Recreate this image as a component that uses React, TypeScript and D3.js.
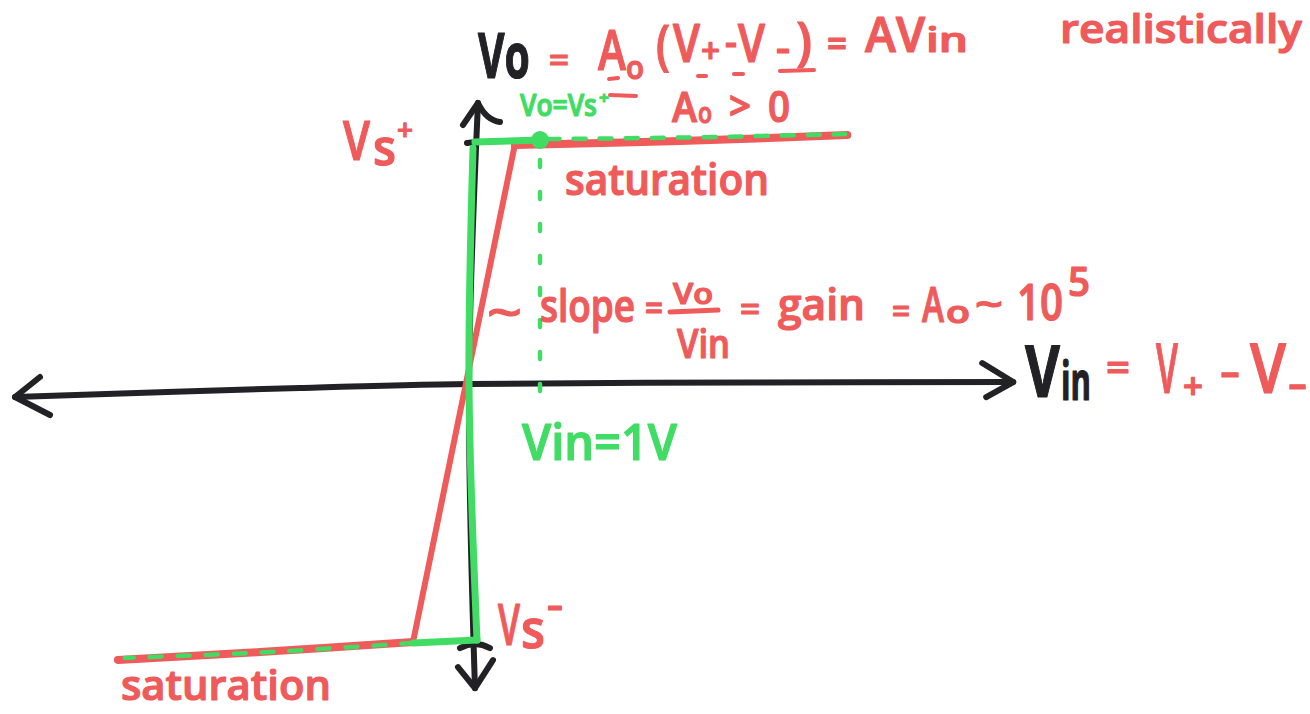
import React, { useLayoutEffect, useRef, useState } from "react";
import * as d3 from "d3";

// Op-amp transfer characteristic: Vo versus Vin = V+ - V-
type Pt = [number, number]; // [Vin (V), Vo (V)]

const W = 1310;
const H = 714;

// axes
const vinAxis: Pt[] = [[-6.5, -0.49], [-2.43, -0.12], [0, 0.04], [4, 0.1], [7.76, 0.12]];
const voAxis: Pt[] = [[0.114, 11.51], [-0.014, 0], [0.071, -12.37]];

// realistic (finite gain) curve
const redTop: Pt[] = [[0.64, 9.8], [3.0, 9.96], [5.39, 10.2]];
const redSlope: Pt[] = [[0.64, 9.8], [-0.814, -10.49]];
const redBottom: Pt[] = [[-0.814, -10.49], [-3.0, -10.9], [-5.03, -11.22]];

// ideal (infinite gain) curve
const greenVertical: Pt[] = [[0.043, 9.67], [-0.014, 0], [0.1, -10.41]];
const greenTop: Pt[] = [[0.07, 9.92], [1, 10.0]];
const greenTopDash: Pt[] = [[1.11, 10.04], [3.0, 10.1], [5.36, 10.24]];
const greenBottom: Pt[] = [[0.1, -10.41], [-0.81, -10.53]];
const greenBottomDash: Pt[] = [[-0.81, -10.53], [-3.0, -10.92], [-4.93, -11.14]];
const markerVin: Pt[] = [[1, 9.18], [1, -0.61]];
const markerDot: Pt = [1, 10.0];

const RED = "#ef5a5a";
const GREEN = "#40dc64";
const INK = "#222226";
const FONT = "'Open Sans', 'Noto Sans', sans-serif";

// [text, x, baseline, font size, fitted width]
type Part = [string, number, number, number, number];

// one glyph run, scaled horizontally to fill its width
function Piece({ part, c, fw }: { part: Part; c: string; fw: number }) {
  const [t, x, y, s, w] = part;
  const ref = useRef<SVGTextElement>(null);
  const [k, setK] = useState(1);
  useLayoutEffect(() => {
    const n = ref.current ? ref.current.getComputedTextLength() : 0;
    if (n > 0) setK(w / n);
  }, [t, s, w]);
  return (
    <text
      ref={ref}
      transform={`translate(${x},${y}) scale(${k},1)`}
      fontSize={s}
      fill={c}
      stroke={c}
      strokeWidth={1.2}
      strokeLinejoin="round"
      fontFamily={FONT}
      fontWeight={fw}
    >
      {t}
    </text>
  );
}

function Words({ parts, c, fw = 600 }: { parts: Part[]; c: string; fw?: number }) {
  return (
    <g>
      {parts.map((pt, i) => (
        <Piece key={i} part={pt} c={c} fw={fw} />
      ))}
    </g>
  );
}

const eqOut: Part[] = [["Vo", 478, 78, 62, 52]];
const eqGain: Part[] = [
  ["=", 549, 72, 34, 20],
  ["A", 598, 70, 56, 28],
  ["o", 626, 79, 32, 18],
  ["(", 656, 64, 54, 14],
  ["V", 673, 62, 52, 27],
  ["+", 701, 63, 34, 19],
  ["-", 725, 56, 40, 12],
  ["V", 738, 62, 52, 27],
  ["-", 776, 62, 40, 14],
  [")", 796, 60, 52, 16],
  ["=", 827, 57, 40, 20],
  ["AV", 865, 52, 48, 60],
  ["in", 926, 52, 34, 42],
];
const realNote: Part[] = [["realistically", 1060, 43, 40, 242]];
const satHigh: Part[] = [
  ["Vo=Vs", 520, 116, 31, 77],
  ["+", 599, 104, 16, 10],
];
const gainSign: Part[] = [
  ["A", 672, 122, 42, 25],
  ["o", 698, 123, 28, 14],
  [">", 729, 120, 40, 22],
  ["0", 768, 122, 44, 22],
];
const vsPlus: Part[] = [
  ["V", 343, 160, 54, 27],
  ["s", 373, 165, 50, 23],
  ["+", 397, 140, 28, 16],
];
const satLabelTop: Part[] = [["saturation", 565, 195, 44, 204]];
const slopeNote: Part[] = [
  ["~", 487, 329, 46, 35],
  ["slope", 540, 322, 45, 95],
  ["=", 645, 321, 36, 18],
  ["Vo", 673, 304, 28, 40],
  ["Vin", 677, 358, 40, 53],
  ["=", 740, 321, 34, 20],
  ["gain", 778, 320, 43, 87],
  ["=", 892, 323, 34, 18],
  ["A", 922, 322, 49, 22],
  ["o", 946, 323, 30, 24],
  ["~", 975, 318, 38, 28],
  ["10", 1017, 320, 50, 46],
  ["5", 1068, 296, 40, 22],
];
const vinLabel: Part[] = [
  ["V", 1025, 397, 72, 35],
  ["in", 1061, 400, 54, 30],
];
const vinDef: Part[] = [
  ["=", 1106, 381, 40, 24],
  ["V", 1156, 393, 68, 22],
  ["+", 1183, 399, 36, 20],
  ["-", 1220, 387, 44, 20],
  ["V", 1250, 393, 68, 36],
  ["-", 1288, 399, 44, 19],
];
const vinOne: Part[] = [["Vin=1V", 522, 460, 50, 155]];
const vsMinus: Part[] = [
  ["V", 498, 645, 58, 22],
  ["s", 521, 648, 54, 24],
  ["-", 547, 619, 40, 16],
];
const satLabelLow: Part[] = [["saturation", 121, 700, 42, 210]];

export default function App() {
  const x = d3.scaleLinear().domain([0, 1]).range([470, 540]);
  const y = d3.scaleLinear().domain([-10, 10]).range([630, 140]);
  const line = d3
    .line<Pt>()
    .x((d) => x(d[0]))
    .y((d) => y(d[1]))
    .curve(d3.curveCatmullRom);
  const p = (d: Pt[]) => line(d) || "";

  const rE = vinAxis[vinAxis.length - 1];
  const lE = vinAxis[0];
  const tE = voAxis[0];
  const bE = voAxis[voAxis.length - 1];
  const rx = x(rE[0]), ry = y(rE[1]);
  const lx = x(lE[0]), ly = y(lE[1]);
  const tx = x(tE[0]), ty = y(tE[1]);
  const bx = x(bE[0]), by = y(bE[1]);

  return (
    <svg
      width={W}
      height={H}
      viewBox={`0 0 ${W} ${H}`}
      style={{ position: "absolute", left: 0, top: 0, background: "#fff" }}
    >
      <rect width={W} height={H} fill="#fff" />

      {/* axes */}
      <g stroke={INK} strokeWidth={6} fill="none" strokeLinecap="round" strokeLinejoin="round">
        <path d={p(vinAxis)} />
        <path d={p(voAxis)} />
        <path d={`M${rx - 31},${ry - 19} L${rx},${ry} L${rx - 27},${ry + 15}`} />
        <path d={`M${lx + 25},${ly - 20} L${lx},${ly} L${lx + 35},${ly + 18}`} />
        <path d={`M${tx - 15},${ty + 22} L${tx},${ty} Q${tx + 8},${ty + 17} ${tx + 22},${ty + 19}`} />
        <path d={`M${tx - 11},${ty + 40} L${tx - 1},${ty + 39}`} />
        <path d={`M${bx - 17},${by - 21} L${bx},${by} L${bx + 18},${by - 28}`} />
        <path d={`M${bx - 15},${by - 40} Q${bx},${by - 48} ${bx + 15},${by - 40}`} />
      </g>

      {/* realistic curve */}
      <g stroke={RED} strokeWidth={8} fill="none" strokeLinecap="round" strokeLinejoin="round">
        <path d={p(redTop)} />
        <path d={p(redSlope)} strokeWidth={6} />
        <path d={p(redBottom)} />
      </g>

      {/* ideal curve */}
      <g stroke={GREEN} strokeWidth={7} fill="none" strokeLinecap="round" strokeLinejoin="round">
        <path d={p(greenVertical)} />
        <path d={p(greenTop)} />
        <path d={p(greenBottom)} />
        <path d={p(greenTopDash)} strokeWidth={4.5} strokeDasharray="12 14" />
        <path d={p(greenBottomDash)} strokeWidth={4.5} strokeDasharray="12 16" />
        <path d={p(markerVin)} strokeWidth={4.5} strokeDasharray="7 25" />
      </g>
      <circle cx={x(markerDot[0])} cy={y(markerDot[1])} r={9} fill={GREEN} />

      {/* output equation */}
      <Words parts={eqOut} c={INK} fw={700} />
      <Words parts={eqGain} c={RED} />
      <g stroke={RED} strokeWidth={4} strokeLinecap="round" fill="none">
        <path d="M780,71 L814,70" />
        <path d="M609,79 L618,78" />
        <path d="M698,76 L706,76" />
        <path d="M734,74 L743,74" />
        <path d="M610,95 L636,96" />
      </g>
      <Words parts={realNote} c={RED} />

      {/* saturation levels */}
      <Words parts={satHigh} c={GREEN} />
      <Words parts={gainSign} c={RED} />
      <Words parts={vsPlus} c={RED} />
      <Words parts={satLabelTop} c={RED} />

      {/* slope annotation */}
      <Words parts={slopeNote} c={RED} />
      <line x1={670} x2={718} y1={312} y2={310} stroke={RED} strokeWidth={5} strokeLinecap="round" />

      {/* Vin axis label */}
      <Words parts={vinLabel} c={INK} fw={700} />
      <Words parts={vinDef} c={RED} />
      <Words parts={vinOne} c={GREEN} />

      <Words parts={vsMinus} c={RED} />
      <Words parts={satLabelLow} c={RED} />
    </svg>
  );
}
